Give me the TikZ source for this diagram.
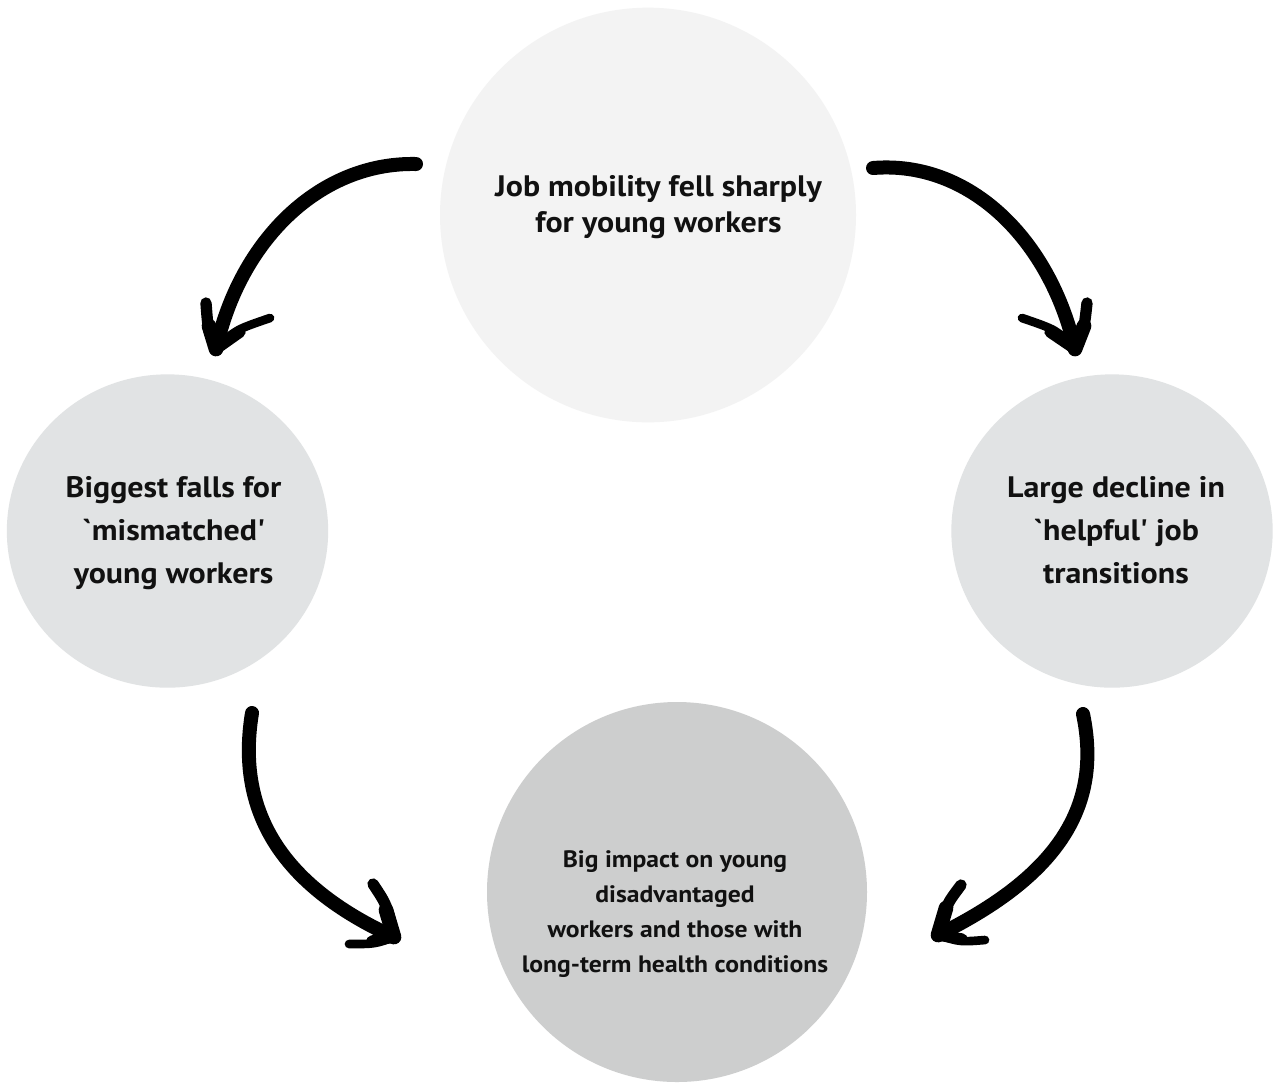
\documentclass[tikz,border=0pt]{standalone}
\usepackage{fontspec}
\newfontfamily\ptsans{PT Sans}[FakeStretch=1.08]
\usetikzlibrary{shapes.geometric}
\definecolor{topfill}{HTML}{F3F3F3}
\definecolor{sidefill}{HTML}{E1E3E4}
\definecolor{botfill}{HTML}{CDCECE}
\definecolor{ink}{HTML}{111111}
\begin{document}
\begin{tikzpicture}[x=0.75pt,y=-0.75pt,
  bubble/.style={ellipse, draw=none, inner sep=0pt},
  caption/.style={align=center, inner sep=0pt, text=ink},
  bodystroke/.style={draw=black, line width=10.5pt, line cap=round},
  barbstroke/.style={draw=black, line width=8.5pt, line cap=round},
  barbbase/.style={draw=black, line width=11pt, line cap=round},
  thinbarb/.style={draw=black, line width=6.5pt, line cap=round}]
\useasboundingbox (0,0) rectangle (1276,1083);
\fill[white] (0,0) rectangle (1276,1083);

% circles
\node[bubble, fill=topfill, minimum width=312pt, minimum height=311pt] (top) at (648,215) {};
\node[bubble, fill=sidefill, minimum width=241pt, minimum height=235pt] (left) at (167.5,531) {};
\node[bubble, fill=sidefill, minimum width=241pt, minimum height=235pt] (right) at (1112,531) {};
\node[bubble, fill=botfill, minimum width=285pt, minimum height=285pt] (bottom) at (677,892) {};

% texts
\node[caption, font=\ptsans\bfseries\fontsize{22.2pt}{27pt}\selectfont] (toptext) at (658.5,207.5)
  {\strut Job mobility fell sharply\\\strut for young workers};
\node[caption, font=\ptsans\bfseries\fontsize{22.2pt}{32.25pt}\selectfont] (lefttext) at (173.5,531.4)
  {\strut Biggest falls for\\\strut `mismatched'\\\strut young workers};
\node[caption, font=\ptsans\bfseries\fontsize{22.2pt}{32.25pt}\selectfont] (righttext) at (1116,531.4)
  {\strut Large decline in\\\strut `helpful' job\\\strut transitions};
\node[caption, font=\ptsans\bfseries\fontsize{17.8pt}{26.25pt}\selectfont] (bottext) at (675,912.5)
  {\strut Big impact on young\\\strut disadvantaged\\\strut workers and those with\\\strut long-term health conditions};

% arrow coordinates
\coordinate (a1s) at (416,164);
\coordinate (a1t) at (216,349);
\coordinate (a1l) at (206,303);
\coordinate (a1lm) at (209,326);
\coordinate (a1r) at (270,318);
\coordinate (a1rm) at (240,332);

\coordinate (a2s) at (873,168);
\coordinate (a2t) at (1075,349);
\coordinate (a2r) at (1087,303);
\coordinate (a2rm) at (1084,326);
\coordinate (a2l) at (1022,318);
\coordinate (a2lm) at (1050,332);

\coordinate (a3s) at (252,713);
\coordinate (a3t) at (394,937);
\coordinate (a3u) at (373,884);
\coordinate (a3um) at (386,910);
\coordinate (a3d) at (349,944);
\coordinate (a3dm) at (372,941);

\coordinate (a4s) at (1083,714);
\coordinate (a4t) at (938,935);
\coordinate (a4u) at (961,885);
\coordinate (a4um) at (946,908);
\coordinate (a4d) at (985,940);
\coordinate (a4dm) at (962,939);

% arrow 1: top -> left
\draw[bodystroke] (a1s) .. controls (320,162) and (240,240) .. (a1t);
\draw[barbstroke] (a1t) .. controls (208,330) .. (a1l);
\draw[barbbase] (a1t) -- (a1lm);
\draw[thinbarb] (a1t) .. controls (235,330) .. (a1r);
\draw[barbstroke] (a1t) -- (a1rm);

% arrow 2: top -> right
\draw[bodystroke] (a2s) .. controls (970,160) and (1050,240) .. (a2t);
\draw[barbstroke] (a2t) .. controls (1084,330) .. (a2r);
\draw[barbbase] (a2t) -- (a2rm);
\draw[thinbarb] (a2t) .. controls (1057,330) .. (a2l);
\draw[barbstroke] (a2t) -- (a2lm);

% arrow 3: left -> bottom
\draw[bodystroke] (a3s) .. controls (236,810) and (280,885) .. (a3t);
\draw[barbstroke] (a3t) .. controls (387,905) .. (a3u);
\draw[barbbase] (a3t) -- (a3um);
\draw[thinbarb] (a3t) .. controls (375,944) .. (a3d);
\draw[barbstroke] (a3t) -- (a3dm);

% arrow 4: right -> bottom
\draw[bodystroke] (a4s) .. controls (1102,805) and (1060,875) .. (a4t);
\draw[barbstroke] (a4t) .. controls (946,905) .. (a4u);
\draw[barbbase] (a4t) -- (a4um);
\draw[thinbarb] (a4t) .. controls (960,942) .. (a4d);
\draw[barbstroke] (a4t) -- (a4dm);
\end{tikzpicture}
\end{document}
